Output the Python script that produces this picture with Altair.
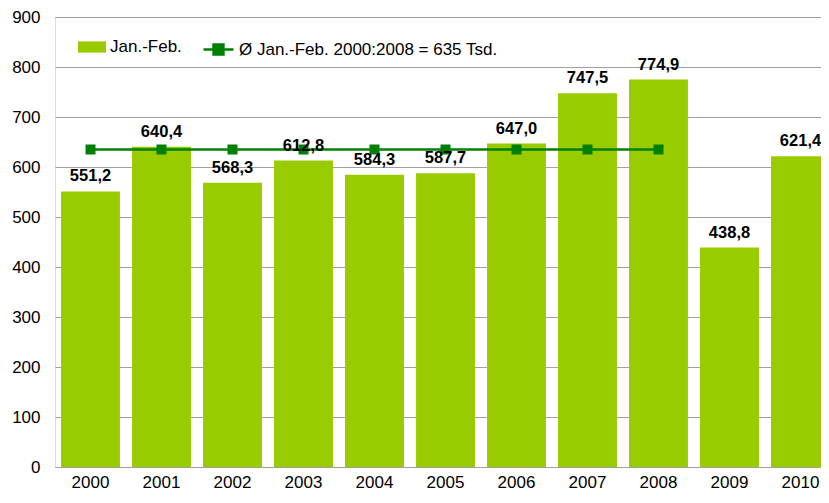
import altair as alt
import pandas as pd

years = ["2000", "2001", "2002", "2003", "2004", "2005", "2006", "2007", "2008", "2009", "2010"]
values = [551.2, 640.4, 568.3, 612.8, 584.3, 587.7, 647.0, 747.5, 774.9, 438.8, 621.4]
avg_years = ["2000", "2001", "2002", "2003", "2004", "2005", "2006", "2007", "2008"]
avg_value = 635
bar_name = "Jan.-Feb."
line_name = "Ø Jan.-Feb. 2000:2008 = 635 Tsd."

FONT = "Liberation Sans"

bars_df = pd.DataFrame({
    "year": years,
    "value": values,
    "label": [f"{v:.1f}".replace(".", ",") for v in values],
    "series": bar_name,
})
line_df = pd.DataFrame({
    "year": avg_years,
    "value": [avg_value] * len(avg_years),
    "series": line_name,
})

x = alt.X("year:N", sort=years, title=None,
          scale=alt.Scale(paddingInner=0.17, paddingOuter=0.085, range=[0, 781]),
          axis=alt.Axis(labelAngle=0, labelFontSize=17, labelFont=FONT, labelColor="#000000",
                        ticks=False, labelPadding=7, domainColor="#a0a0a0", domainWidth=1,
                        grid=False))
y = alt.Y("value:Q", title=None,
          scale=alt.Scale(domain=[0, 900], nice=False, zero=True),
          axis=alt.Axis(values=list(range(0, 901, 100)), labelFontSize=17, labelFont=FONT,
                        labelColor="#000000", ticks=False, labelPadding=15, domain=False,
                        grid=True, gridColor="#a0a0a0", gridWidth=1))

bars = alt.Chart(bars_df).mark_bar(strokeWidth=0).encode(
    x=x, y=y,
    fill=alt.Fill("series:N", scale=alt.Scale(domain=[bar_name], range=["#99CC00"]),
                  legend=alt.Legend(title=None, orient="none", legendX=23, legendY=16,
                                    symbolType="M-1,-0.4H1V0.4H-1Z", symbolSize=784,
                                    symbolStrokeWidth=0, labelLimit=0,
                                    labelFontSize=17, labelFont=FONT, labelColor="#000000",
                                    labelOffset=4, padding=0)),
)

line = alt.Chart(line_df).mark_line(strokeWidth=2.5).encode(
    x=alt.X("year:N", sort=years),
    y="value:Q",
    stroke=alt.Stroke("series:N", scale=alt.Scale(domain=[line_name], range=["#008000"]),
                      legend=alt.Legend(title=None, orient="none", legendX=147, legendY=16,
                                        symbolType="M-1,0H1M-0.33,-0.33H0.33V0.33H-0.33Z",
                                        symbolSize=900, symbolStrokeWidth=2.5,
                                        symbolFillColor="#008000", labelLimit=0,
                                        labelFontSize=17, labelFont=FONT, labelColor="#000000",
                                        labelOffset=4, padding=0)),
)

points = alt.Chart(line_df).mark_square(size=100, color="#008000", opacity=1, filled=True).encode(
    x=alt.X("year:N", sort=years),
    y="value:Q",
)

labels = alt.Chart(bars_df).mark_text(
    dy=-10, baseline="alphabetic", fontSize=16.5, fontWeight="bold", font=FONT, color="#000000"
).encode(
    x=alt.X("year:N", sort=years),
    y="value:Q",
    text="label:N",
)

chart = alt.layer(bars, line, points, labels).resolve_scale(fill="independent", stroke="independent").properties(
    width=766, height=450,
    autosize=alt.AutoSizeParams(type="none"),
    padding={"left": 47, "top": 9, "right": 0, "bottom": 23},
).configure_view(stroke=None).configure(background="#ffffff")

chart.save("out.html", embed_options={"renderer": "svg", "actions": False})
